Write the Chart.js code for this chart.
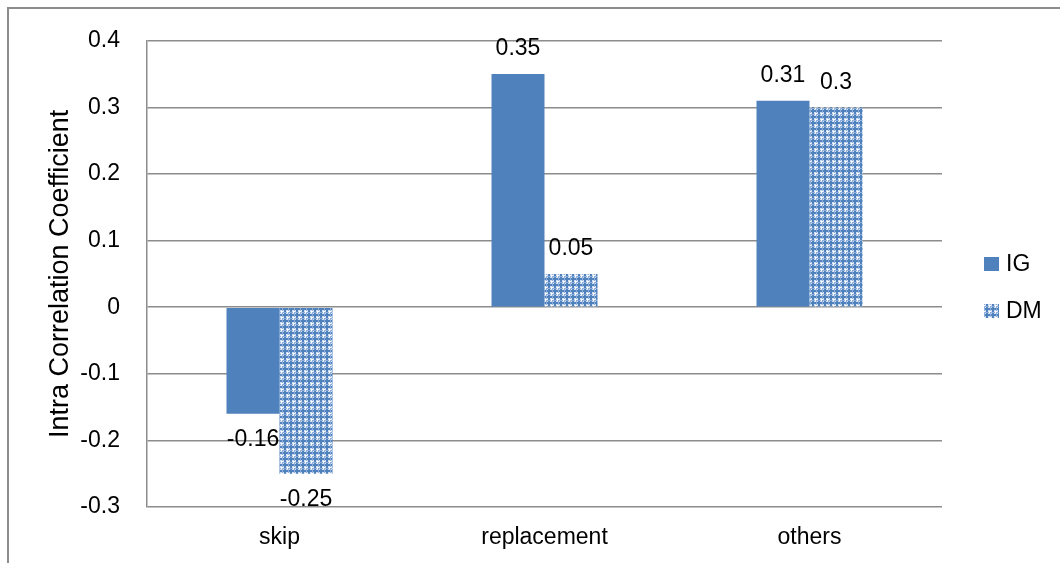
<!DOCTYPE html>
<html>
<head>
<meta charset="utf-8">
<script src="https://cdn.jsdelivr.net/npm/chart.js@4"></script>
<style>
  html, body { margin: 0; padding: 0; background: #fff; }
  #wrap { width: 1060px; height: 563px; position: relative; }
</style>
</head>
<body>
<div id="wrap"><canvas id="c" width="1060" height="563"></canvas></div>
<script>
const categories = ['skip', 'replacement', 'others'];
const seriesNames = ['IG', 'DM'];
const igValues = [-0.16, 0.35, 0.31];
const dmValues = [-0.25, 0.05, 0.3];
const yTicks = [0.4, 0.3, 0.2, 0.1, 0, -0.1, -0.2, -0.3];

const FONT = '"Liberation Sans", Arial, sans-serif';
const BLUE = '#4f81bd';

// Small tiled fill for the DM bars: separate blue crosses on a light lattice
function makePattern() {
  const t = document.createElement('canvas');
  t.width = 6; t.height = 6;
  const g = t.getContext('2d');
  g.fillStyle = '#d3e0f1';
  g.fillRect(0, 0, 6, 6);
  g.fillStyle = '#8eaedb';
  g.fillRect(0, 0, 1, 6);
  g.fillRect(0, 0, 6, 1);
  g.fillStyle = BLUE;
  g.fillRect(1, 2, 5, 2);
  g.fillRect(2, 1, 2, 5);
  g.fillStyle = '#ffffff';
  g.fillRect(5, 5, 1, 1);
  g.fillRect(5, 0, 1, 1);
  g.fillRect(0, 5, 1, 1);
  return g.createPattern(t, 'repeat');
}
const dmFill = makePattern();

const framePlugin = {
  id: 'frame',
  beforeDraw(chart) {
    const ctx = chart.ctx;
    ctx.save();
    ctx.fillStyle = '#fff';
    ctx.fillRect(0, 0, chart.width, chart.height);
    ctx.strokeStyle = '#8c8c8c';
    ctx.lineWidth = 2;
    ctx.beginPath();
    ctx.moveTo(8, chart.height);
    ctx.lineTo(8, 8);
    ctx.lineTo(chart.width, 8);
    ctx.stroke();
    ctx.restore();
  }
};

const valueLabels = {
  id: 'valueLabels',
  afterDatasetsDraw(chart) {
    const ctx = chart.ctx;
    ctx.save();
    ctx.font = '23px ' + FONT;
    ctx.fillStyle = '#000';
    ctx.textAlign = 'center';
    ctx.textBaseline = 'middle';
    chart.data.datasets.forEach((ds, di) => {
      const meta = chart.getDatasetMeta(di);
      meta.data.forEach((bar, i) => {
        const v = ds.data[i];
        const y = v >= 0 ? bar.y - 25 : bar.y + 26;
        ctx.fillText(String(v), bar.x, y);
      });
    });
    ctx.restore();
  }
};

const sideLegend = {
  id: 'sideLegend',
  afterDraw(chart) {
    const ctx = chart.ctx;
    ctx.save();
    ctx.font = '23px ' + FONT;
    ctx.textBaseline = 'middle';
    ctx.textAlign = 'left';
    const rows = [264, 311];
    chart.data.datasets.forEach((ds, i) => {
      const y = rows[i];
      ctx.fillStyle = ds.backgroundColor;
      ctx.fillRect(984, y - 7, 15, 14);
      ctx.fillStyle = '#000';
      ctx.fillText(ds.label, 1006, y + 1);
    });
    ctx.restore();
  }
};

new Chart(document.getElementById('c'), {
  type: 'bar',
  data: {
    labels: categories,
    datasets: [
      { label: seriesNames[0], data: igValues, backgroundColor: BLUE },
      { label: seriesNames[1], data: dmValues, backgroundColor: dmFill }
    ]
  },
  options: {
    responsive: false,
    animation: false,
    events: [],
    layout: { padding: { left: 0, top: 25, right: 118, bottom: 0 } },
    datasets: { bar: { categoryPercentage: 0.4, barPercentage: 1.0 } },
    plugins: {
      legend: { display: false },
      tooltip: { enabled: false }
    },
    scales: {
      x: {
        grid: { display: false, drawTicks: false },
        border: { display: false },
        ticks: { color: '#000', font: { family: FONT, size: 23 }, padding: 17 },
        afterFit(s) { s.height = 56; }
      },
      y: {
        min: -0.3,
        max: 0.4,
        afterBuildTicks(s) { s.ticks = yTicks.map(v => ({ value: v })); },
        grid: { color: '#8c8c8c', lineWidth: 1.5, drawTicks: false },
        border: { display: true, color: '#8c8c8c', width: 1.5 },
        ticks: {
          color: '#000',
          font: { family: FONT, size: 23 },
          padding: 27,
          callback: v => String(Math.round(v * 10) / 10)
        },
        title: {
          display: true,
          text: 'Intra Correlation Coefficient',
          color: '#000',
          font: { family: FONT, size: 27 },
          padding: { top: 44, bottom: 0 }
        },
        afterFit(s) { s.width = 147; }
      }
    }
  },
  plugins: [framePlugin, valueLabels, sideLegend]
});
</script>
</body>
</html>
